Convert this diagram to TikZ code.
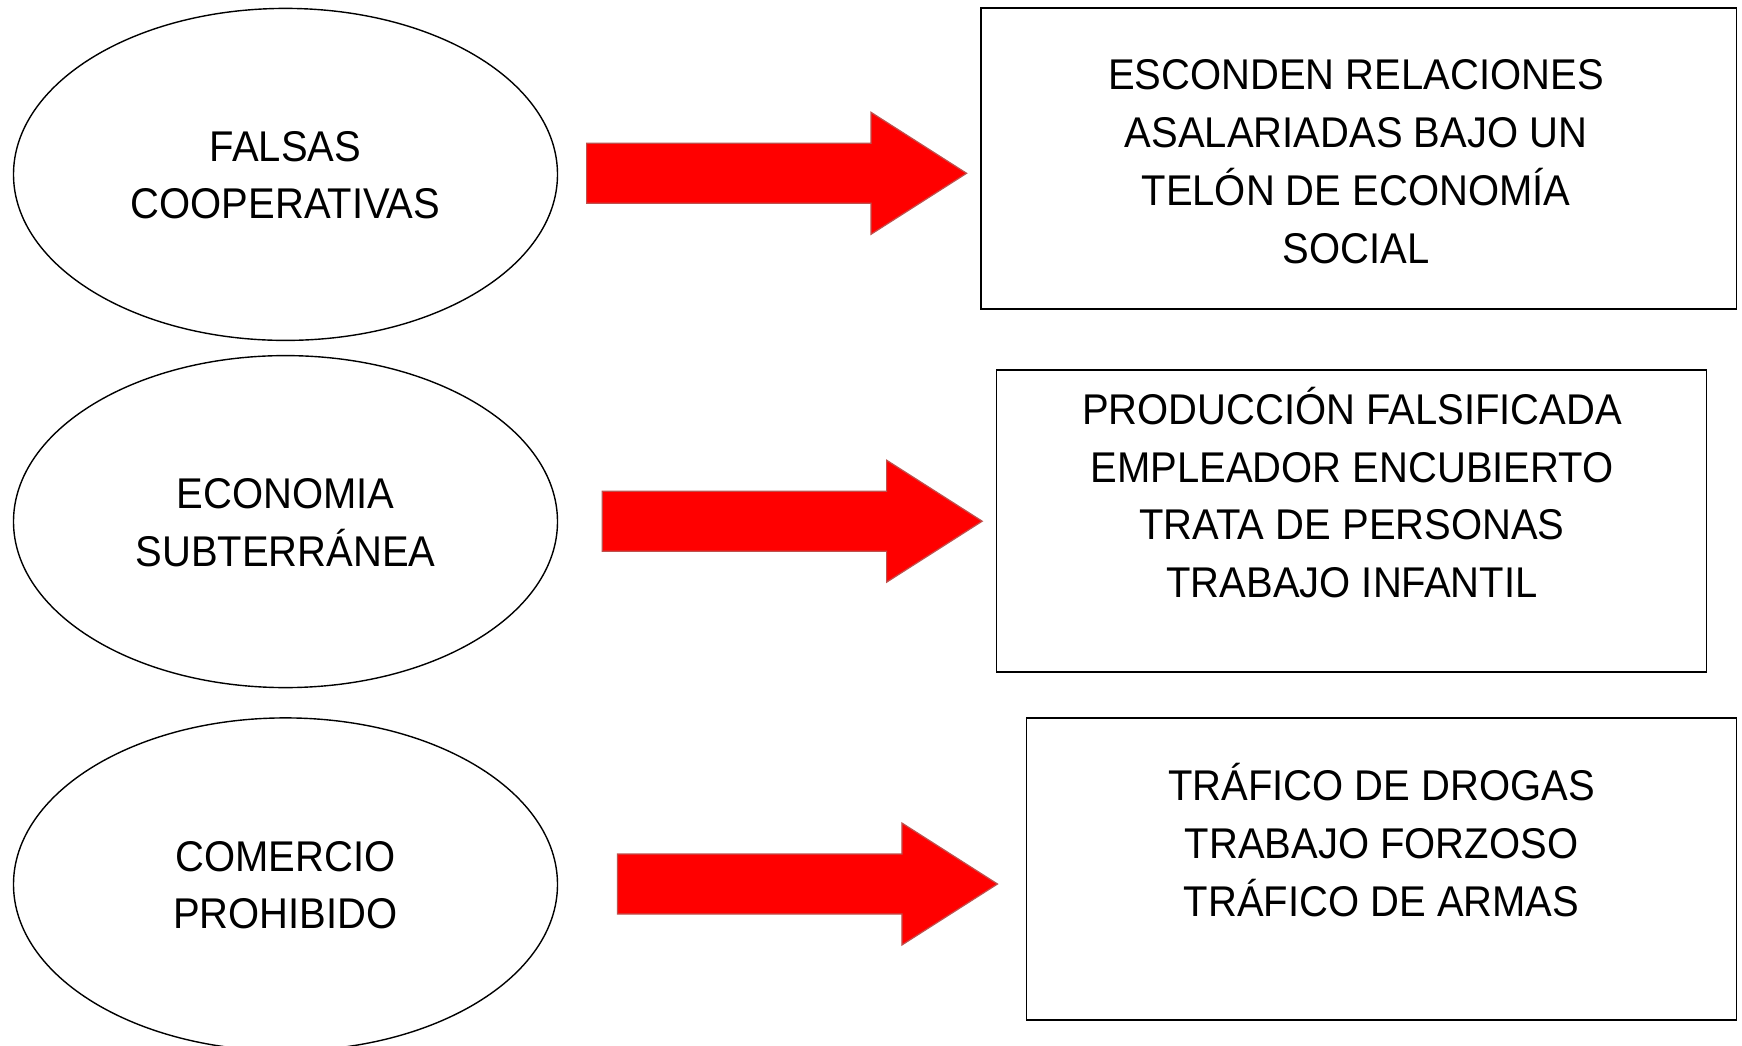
\documentclass[tikz,border=0pt]{standalone}
\usepackage{fontspec}
\setmainfont{Liberation Sans}[FakeStretch=0.93]
\usetikzlibrary{shapes.geometric}
\definecolor{arrowred}{RGB}{255,0,0}
\definecolor{arrowedge}{RGB}{192,80,77}
\newcommand\topstrut{\rule{0pt}{46pt}}
\newcommand\botstrut{\rule[-15pt]{0pt}{15pt}}
\begin{document}
\begin{tikzpicture}[x=1pt,y=-1pt,
  txt/.style={font=\fontsize{43pt}{57.8pt}\selectfont,align=center,inner sep=0pt},
  oval/.style={ellipse,draw=black,line width=1.4pt,inner sep=0pt,minimum width=544pt,minimum height=332pt,txt},
  panel/.style={rectangle,draw=black,line width=1.5pt,inner sep=0pt,minimum height=301pt},
  blockarrow/.pic={\filldraw[fill=arrowred,draw=arrowedge,line width=1.2pt]
     (0,-30) -- (284.4,-30) -- (284.4,-61) -- (380,0) -- (284.4,61) -- (284.4,30) -- (0,30) -- cycle;}
]
\useasboundingbox[fill=white] (0,0) rectangle (1742,1046);

% ellipses
\node[oval] (e1) at (285.5,174.4) {\topstrut FALSAS\\\botstrut COOPERATIVAS};
\node[oval] (e2) at (285.5,521.6) {\topstrut ECONOMIA\\\botstrut SUBTERRÁNEA};
\node[oval,minimum height=333pt] (e3) at (285.5,884.4) {\topstrut COMERCIO\\\botstrut PROHIBIDO};

% boxes
\node[panel,minimum width=755.5pt] (b1) at (1358.7,158.3) {};
\node[panel,minimum width=710pt,minimum height=302pt] (b2) at (1351.6,521) {};
\node[panel,minimum width=710pt,minimum height=302pt] (b3) at (1381.5,868.8) {};

% box texts
\node[txt] (t1) at (1356,161.1) {\topstrut ESCONDEN RELACIONES\\ASALARIADAS BAJO UN\\TELÓN DE ECONOMÍA\\\botstrut SOCIAL};
\node[txt] (t2) at (1352,495.5) {\topstrut PRODUCCIÓN FALSIFICADA\\EMPLEADOR ENCUBIERTO\\TRATA DE PERSONAS\\\botstrut TRABAJO INFANTIL};
\node[txt] (t3) at (1381.5,842.7) {\topstrut TRÁFICO DE DROGAS\\TRABAJO FORZOSO\\\botstrut TRÁFICO DE ARMAS};

% block arrows
\coordinate (a1) at (586.6,173.3);
\coordinate (a2) at (602.2,521.2);
\coordinate (a3) at (617.5,884);
\pic at (a1) {blockarrow};
\pic at (a2) {blockarrow};
\pic at (a3) {blockarrow};
\end{tikzpicture}
\end{document}
